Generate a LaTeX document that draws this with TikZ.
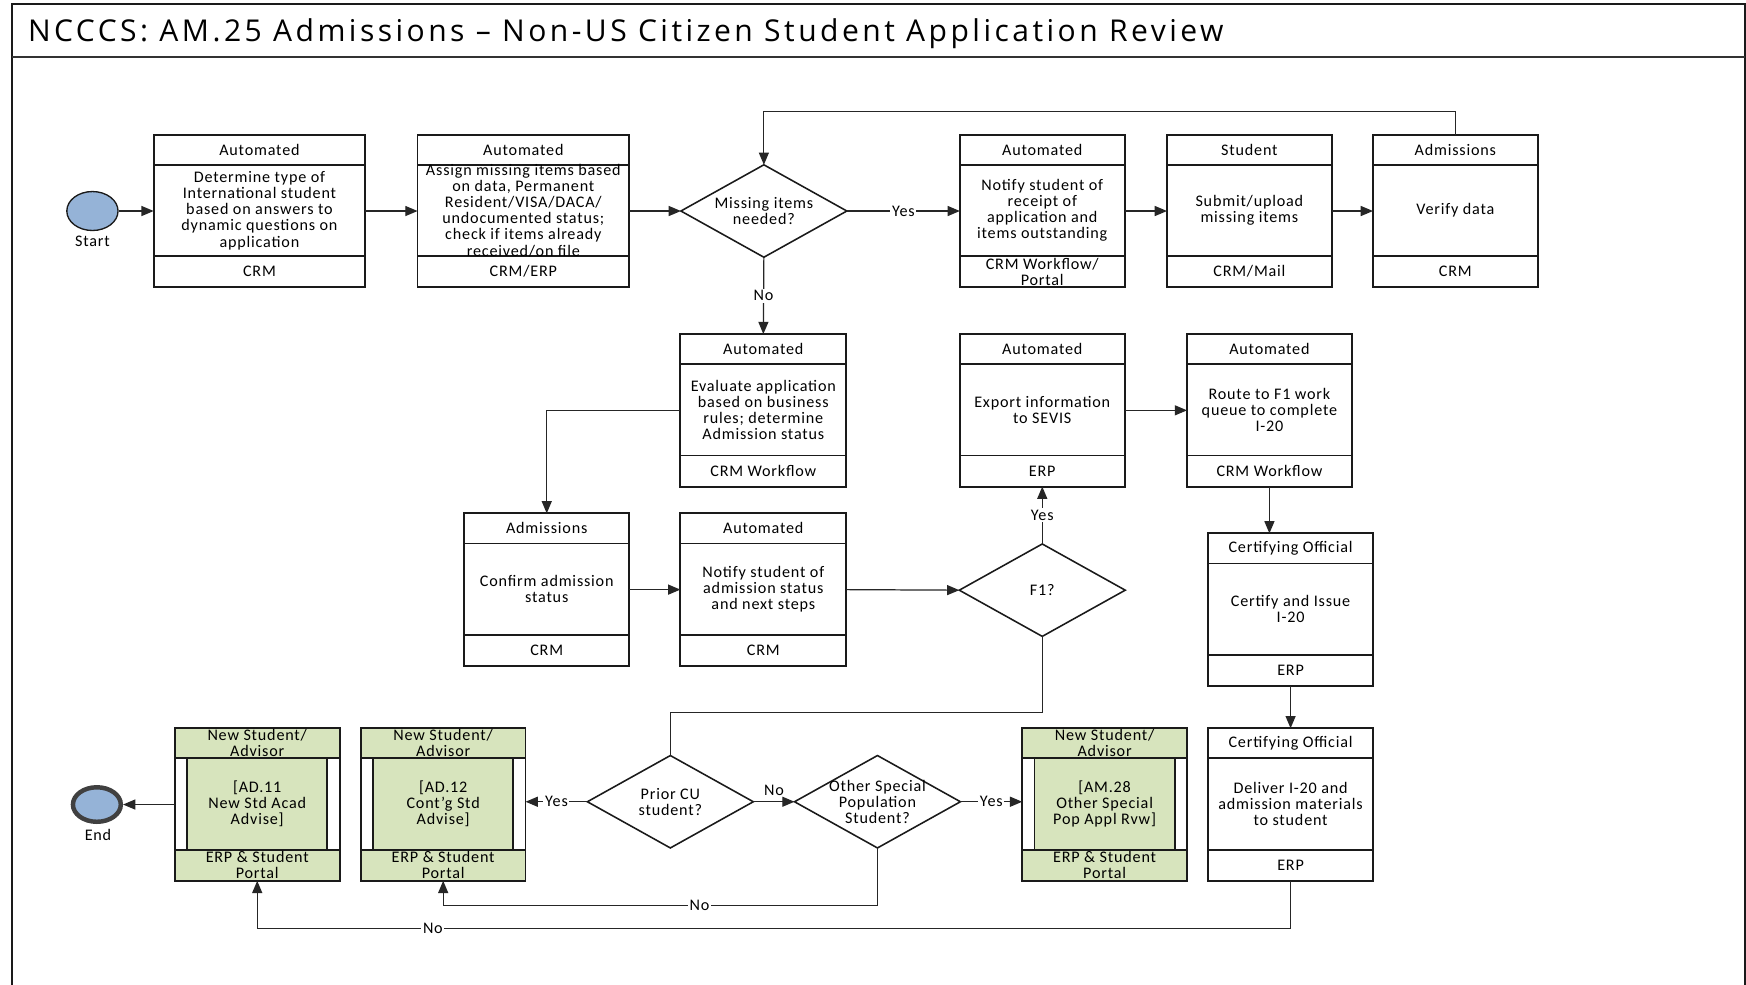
\documentclass[tikz,border=0pt]{standalone}
\usepackage{fontspec}
\setmainfont{Carlito}
\newfontfamily\bodyfont{Carlito}[LetterSpace=5.0]
\newfontfamily\titlefont{Open Sans}[LetterSpace=11.5]
\usetikzlibrary{arrows.meta,shapes.geometric,calc}

\definecolor{subfill}{HTML}{D7E4BD}
\definecolor{evfill}{HTML}{95B3D7}
\definecolor{lineclr}{HTML}{1A1A1A}

\tikzset{
  boxframe/.style={draw=lineclr, line width=1.6pt, rectangle, inner sep=0pt, outer sep=0pt, minimum height=137pt},
  boxrule/.style={draw=lineclr, line width=1.6pt},
  btext/.style={font=\bodyfont\fontsize{14.5}{14.5}\selectfont, align=center, inner sep=0pt},
  conn/.style={draw=black!85, line width=1.1pt},
  arr/.style={conn, -{Triangle[length=11pt,width=9pt]}},
  decision/.style={diamond, draw=lineclr, line width=1.4pt, minimum width=149pt, minimum height=83pt, inner sep=0pt, outer sep=0pt},
  lab/.style={btext, fill=white, inner sep=1.5pt},
  event/.style={ellipse, fill=evfill, inner sep=0pt},
}

% three-part process box: [fill] name, left, top, width, header, body, footer
\newcommand\procbox[8][white]{%
  \node[boxframe, fill=#1, minimum width=#5pt, anchor=north west] (#2) at (#3,#4) {};
  \draw[boxrule] ([yshift=-27pt]#2.north west) -- ([yshift=-27pt]#2.north east);
  \draw[boxrule] ([yshift=28pt]#2.south west) -- ([yshift=28pt]#2.south east);
  \node[btext] (#2-h) at ([yshift=-13.5pt]#2.north) {#6};
  \node[btext] (#2-b) at ([yshift=-68pt]#2.north) {#7};
  \node[btext] (#2-f) at ([yshift=14pt]#2.south) {#8};
}
% sub-process box with side bars: name, left, top, header, body, footer
\newcommand\subbox[6]{%
  \procbox[subfill]{#1}{#2}{#3}{148}{#4}{#5}{#6}
  \fill[white] ([xshift=0.8pt,yshift=-27.8pt]#1.north west) rectangle ([xshift=11pt,yshift=28.8pt]#1.south west);
  \fill[white] ([xshift=-0.8pt,yshift=-27.8pt]#1.north east) rectangle ([xshift=-11pt,yshift=28.8pt]#1.south east);
  \draw[boxrule] ([xshift=11pt,yshift=-27pt]#1.north west) -- ([xshift=11pt,yshift=28pt]#1.south west);
  \draw[boxrule] ([xshift=-11pt,yshift=-27pt]#1.north east) -- ([xshift=-11pt,yshift=28pt]#1.south east);
}

\begin{document}
\begin{tikzpicture}[x=1pt,y=-1pt]
\useasboundingbox (0,0) rectangle (1568,884);
\fill[white] (0,0) rectangle (1568,884);

% frame and title bar
\draw[line width=2pt, draw=lineclr] (11,930) -- (11,3.6) -- (1567,3.6) -- (1567,930);
\draw[line width=2pt, draw=black!80] (11,51.5) -- (1567,51.5);
\node[anchor=base west, inner sep=0pt, font=\titlefont\fontsize{27}{27}\selectfont] (title) at (25,37.4)
  {NCCCS: AM.25 Admissions – Non-US Citizen Student Application Review};

% routing levels
\coordinate (loop) at (0,100);
\coordinate (f1run) at (0,640);
\coordinate (otherrun) at (0,813);
\coordinate (bottomrun) at (0,834);

% events
\node[event, draw=lineclr, line width=1.2pt, minimum width=46pt, minimum height=35pt] (start) at (83,189.5) {};
\node[btext] (start-l) at (83,217) {Start};
\node[event, draw=black!75, line width=4pt, minimum width=43pt, minimum height=31pt] (end) at (87,722.5) {};
\node[btext] (end-l) at (88,750) {End};

% process boxes
\procbox{box1}{138}{121}{190}{Automated}{Determine type of\\International student\\based on answers to\\dynamic questions on\\application}{CRM}
\procbox{box2}{375}{121}{190}{Automated}{Assign missing items based\\on data, Permanent\\Resident/VISA/DACA/\\undocumented status;\\check if items already\\received/on file}{CRM/ERP}
\procbox{notify}{862}{121}{148}{Automated}{Notify student of\\receipt of\\application and\\items outstanding}{CRM Workflow/\\Portal}
\procbox{student}{1048}{121}{148}{Student}{Submit/upload\\missing items}{CRM/Mail}
\procbox{verify}{1233}{121}{148}{Admissions}{Verify data}{CRM}
\procbox{eval}{611}{300}{149}{Automated}{Evaluate application\\based on business\\rules; determine\\Admission status}{CRM Workflow}
\procbox{export}{862}{300}{148}{Automated}{Export information\\to SEVIS}{ERP}
\procbox{route}{1066}{300}{148}{Automated}{Route to F1 work\\queue to complete\\I-20}{CRM Workflow}
\procbox{confirm}{417}{461}{148}{Admissions}{Confirm admission\\status}{CRM}
\procbox{notify2}{611}{461}{149}{Automated}{Notify student of\\admission status\\and next steps}{CRM}
\procbox{certify}{1085}{479}{148}{Certifying Official}{Certify and Issue\\I-20}{ERP}
\procbox{deliver}{1085}{654}{148}{Certifying Official}{Deliver I-20 and\\admission materials\\to student}{ERP}

% linked sub-processes
\subbox{ad11}{157}{654}{New Student/\\Advisor}{[AD.11\\New Std Acad\\Advise]}{ERP \& Student\\Portal}
\subbox{ad12}{324}{654}{New Student/\\Advisor}{[AD.12\\Cont’g Std\\Advise]}{ERP \& Student\\Portal}
\subbox{am28}{918}{654}{New Student/\\Advisor}{[AM.28\\Other Special\\Pop Appl Rvw]}{ERP \& Student\\Portal}

% decisions
\node[decision] (miss) at (686,189.5) {};
\node[btext] (miss-t) at (miss.center) {Missing items\\needed?};
\node[decision] (f1) at (936,530) {};
\node[btext] (f1-t) at (f1.center) {F1?};
\node[decision] (prior) at (602,720) {};
\node[btext] (prior-t) at (prior.center) {Prior CU\\student?};
\node[decision] (other) at (788,720) {};
\node[btext] (other-t) at (other.center) {Other Special\\Population\\Student?};

% connectors
\draw[arr] (start.east) -- (box1.west);
\draw[arr] (box1.east) -- (box2.west);
\draw[arr] (box2.east) -- (miss.west);
\draw[arr] (miss.east) -- node[lab] (yes1) {Yes} (notify.west);
\draw[arr] (notify.east) -- (student.west);
\draw[arr] (student.east) -- (verify.west);
\draw[arr] (verify.north) |- (miss.north |- loop) -- (miss.north);
\draw[arr] (miss.south) -- node[lab] (no1) {No} (eval.north);
\draw[arr] (eval.west) -| (confirm.north);
\draw[arr] (confirm.east) -- (notify2.west);
\draw[arr] (notify2.east) -- (f1.west);
\draw[arr] (f1.north) -- node[lab] (yes2) {Yes} (export.south);
\draw[arr] (export.east) -- (route.west);
\draw[arr] (route.south) -- (route.south |- certify.north);
\draw[arr] (certify.south) -- (deliver.north);
\draw[arr] (deliver.south) -- (deliver.south |- bottomrun)
  -- node[lab, pos=0.83] (no2) {No} (ad11.south |- bottomrun) -- (ad11.south);
\draw[conn] (f1.south) -- (f1.south |- f1run) -| (prior.north);
\draw[arr] (prior.west) -- node[lab] (yes3) {Yes} (ad12.east |- prior.west);
\draw[arr] (prior.east) -- node[btext, above=5pt] (no3) {No} (other.west);
\draw[arr] (other.east) -- node[lab] (yes4) {Yes} (am28.west |- other.east);
\draw[arr] (other.south) -- (other.south |- otherrun)
  -- node[lab, pos=0.41] (no4) {No} (ad12.south |- otherrun) -- (ad12.south);
\draw[arr] (ad11.west) -- (end.east);
\end{tikzpicture}
\end{document}
